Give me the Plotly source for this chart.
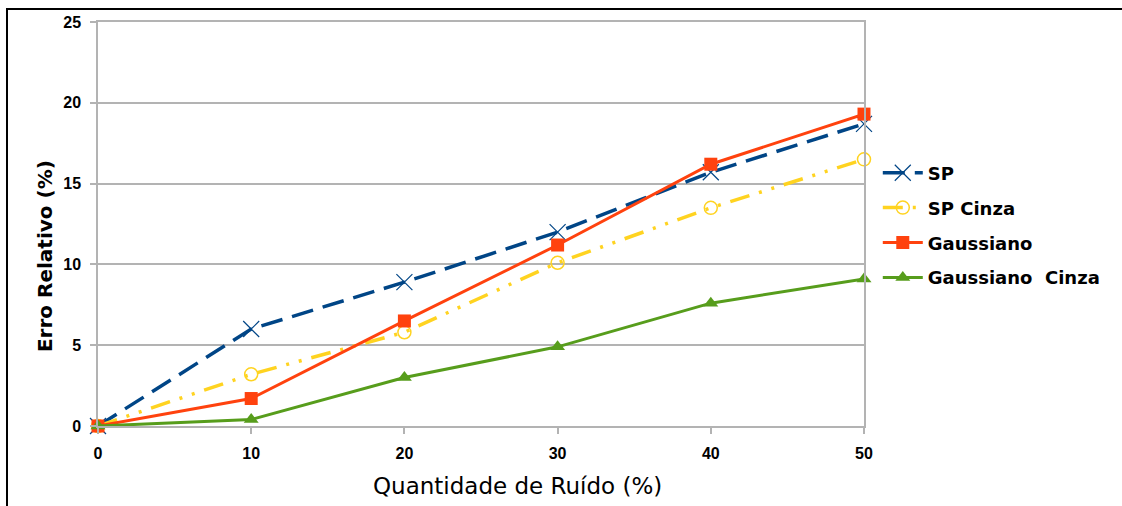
import plotly.graph_objects as go

# Noise amount (%) on the x axis
ruido = [0, 10, 20, 30, 40, 50]

# Relative error (%) per method
sp = [0.0, 6.0, 8.9, 12.0, 15.7, 18.7]
sp_cinza = [0.0, 3.2, 5.8, 10.1, 13.5, 16.5]
gaussiano = [0.0, 1.7, 6.5, 11.2, 16.2, 19.3]
gaussiano_cinza = [0.0, 0.4, 3.0, 4.9, 7.6, 9.1]

x_ticks = [0, 10, 20, 30, 40, 50]
y_ticks = [0, 5, 10, 15, 20, 25]

AZUL = "#004586"
AMARELO = "#ffd320"
LARANJA = "#ff420e"
VERDE = "#579d1c"

fig = go.Figure()

fig.add_trace(go.Scatter(
    x=ruido, y=sp, name="SP", mode="lines+markers", legendgroup="a", cliponaxis=False,
    line=dict(color=AZUL, width=3.5, dash="22px,10px"),
    marker=dict(symbol="x-thin-open", size=16, line=dict(color=AZUL, width=1.2)),
))
fig.add_trace(go.Scatter(
    x=ruido, y=sp_cinza, name="SP Cinza", mode="lines+markers", legendgroup="b", cliponaxis=False,
    line=dict(color=AMARELO, width=3.5, dash="20px,10px,3px,10px,3px,10px"),
    marker=dict(symbol="circle-open", size=13, color=AMARELO, line=dict(color=AMARELO, width=1.5)),
))
fig.add_trace(go.Scatter(
    x=ruido, y=gaussiano, name="Gaussiano", mode="lines+markers", legendgroup="c", cliponaxis=False,
    line=dict(color=LARANJA, width=3),
    marker=dict(symbol="square", size=13, color=LARANJA),
))
fig.add_trace(go.Scatter(
    x=ruido, y=gaussiano_cinza, name="Gaussiano  Cinza", mode="lines+markers", legendgroup="d", cliponaxis=False,
    line=dict(color=VERDE, width=3),
    marker=dict(symbol="triangle-up", size=13, color=VERDE),
))

tick_font = dict(family="Liberation Sans, Arial, sans-serif", size=16, color="#000000", weight="bold")

fig.update_xaxes(
    range=[0, 50], tickvals=x_ticks, ticktext=[str(v) for v in x_ticks],
    showgrid=False, zeroline=False,
    showline=True, linecolor="#b3b3b3", linewidth=1.5, mirror=True,
    ticks="outside", ticklen=6, tickcolor="#b3b3b3", tickwidth=1.5,
    tickfont=tick_font, ticklabelstandoff=6,
)
fig.update_yaxes(
    range=[0, 25], tickvals=y_ticks, ticktext=[str(v) for v in y_ticks],
    showgrid=True, gridcolor="#b3b3b3", gridwidth=1.5, zeroline=False,
    showline=True, linecolor="#b3b3b3", linewidth=1.5, mirror=True,
    ticks="outside", ticklen=6, tickcolor="#b3b3b3", tickwidth=1.5,
    tickfont=tick_font, ticklabelstandoff=6,
)

# Axis titles
fig.add_annotation(
    text="Quantidade de Ruído (%)", xref="paper", yref="paper",
    x=0.547, y=-0.148, xanchor="center", yanchor="middle", showarrow=False,
    font=dict(family="DejaVu Sans, sans-serif", size=23, color="#000000"),
)
fig.add_annotation(
    text="Erro Relativo (%)", xref="paper", yref="paper",
    x=-0.069, y=0.421, xanchor="center", yanchor="middle", showarrow=False,
    textangle=-90,
    font=dict(family="DejaVu Sans, sans-serif", size=20, color="#000000", weight="bold"),
)

# Frame around the chart (top and left edges)
fig.add_shape(
    type="path", xref="paper", yref="paper",
    path="M -0.1188,-0.2 L -0.1188,1.032 L 1.34,1.032",
    line=dict(color="#000000", width=2),
)

fig.update_layout(
    width=1122, height=506,
    margin=dict(l=98, r=258, t=22, b=80),
    paper_bgcolor="#ffffff", plot_bgcolor="#ffffff",
    showlegend=True,
    legend=dict(
        x=1.018, y=0.672, xanchor="left", yanchor="top",
        font=dict(family="DejaVu Sans, sans-serif", size=18, color="#000000", weight="bold"),
        tracegroupgap=8.5, itemwidth=40, bgcolor="rgba(0,0,0,0)",
    ),
)

fig.write_html("out.html")
